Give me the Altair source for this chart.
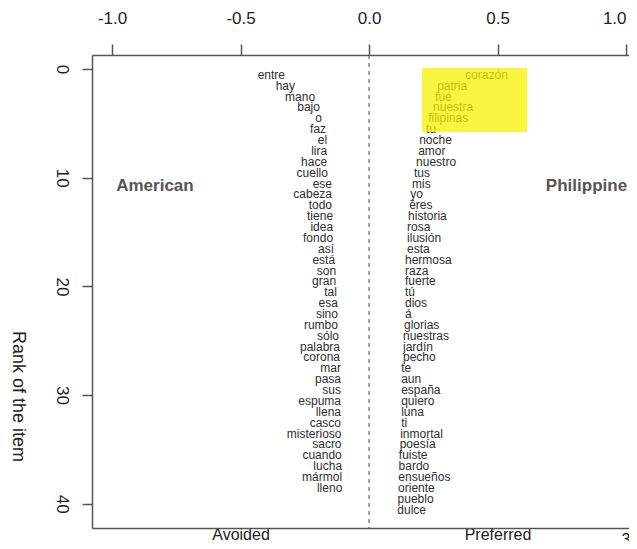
import altair as alt
import pandas as pd

# American (avoided) words, in rank order, with their scores
left_words = ["entre", "hay", "mano", "bajo", "o", "faz", "el", "lira", "hace", "cuello",
              "ese", "cabeza", "todo", "tiene", "idea", "fondo", "así", "está", "son", "gran",
              "tal", "esa", "sino", "rumbo", "sólo", "palabra", "corona", "mar", "pasa", "sus",
              "espuma", "llena", "casco", "misterioso", "sacro", "cuando", "lucha", "mármol", "lleno"]
left_scores = [-0.327, -0.288, -0.210, -0.191, -0.183, -0.167, -0.163, -0.163, -0.163, -0.160,
               -0.144, -0.144, -0.144, -0.140, -0.140, -0.140, -0.136, -0.132, -0.128, -0.128,
               -0.125, -0.121, -0.121, -0.121, -0.117, -0.113, -0.113, -0.109, -0.109, -0.109,
               -0.109, -0.109, -0.109, -0.107, -0.107, -0.106, -0.105, -0.105, -0.104]

# Philippine (preferred) words, in rank order, with their scores
right_words = ["corazón", "patria", "fué", "nuestra", "filipinas", "tu", "noche", "amor", "nuestro", "tus",
               "mis", "yo", "éres", "historia", "rosa", "ilusión", "esta", "hermosa", "raza", "fuerte",
               "tú", "dios", "á", "glorias", "nuestras", "jardín", "pecho", "te", "aun", "españa",
               "quiero", "luna", "ti", "inmortal", "poesía", "fuiste", "bardo", "ensueños", "oriente", "pueblo",
               "dulce"]
right_scores = [0.374, 0.265, 0.257, 0.249, 0.230, 0.222, 0.195, 0.191, 0.183, 0.175,
                0.167, 0.160, 0.156, 0.152, 0.148, 0.148, 0.148, 0.140, 0.140, 0.140,
                0.140, 0.140, 0.140, 0.136, 0.132, 0.132, 0.132, 0.125, 0.125, 0.125,
                0.125, 0.125, 0.125, 0.121, 0.119, 0.116, 0.115, 0.114, 0.113, 0.111,
                0.110]

group_labels = ["American", "Philippine"]
group_x = [-0.833, 0.846]
group_rank = [10.8, 10.8]

highlight_x = [0.206]
highlight_x2 = [0.615]
highlight_rank = [-0.1]
highlight_rank2 = [5.8]

x_ticks = [-1.0, -0.5, 0.0, 0.5, 1.0]
y_ticks = [0, 10, 20, 30, 40]
side_positions = [-0.5, 0.5]

page_label = ["3"]
page_x = [1.0]
page_rank = [43.3]

FONT = "Liberation Sans"
W, H = 537, 473
X_MAX = -1.078 + W / 257.0

left_df = pd.DataFrame({"word": left_words, "score": left_scores,
                        "rank": list(range(1, len(left_words) + 1))})
right_df = pd.DataFrame({"word": right_words, "score": right_scores,
                         "rank": list(range(1, len(right_words) + 1))})
group_df = pd.DataFrame({"label": group_labels, "x": group_x, "rank": group_rank})
hl_df = pd.DataFrame({"x": highlight_x, "x2": highlight_x2, "r": highlight_rank, "r2": highlight_rank2})
zero_df = pd.DataFrame({"x": [0.0]})
page_df = pd.DataFrame({"label": page_label, "x": page_x, "rank": page_rank})

xscale = alt.Scale(domain=[-1.078, X_MAX], nice=False, zero=False)
yscale = alt.Scale(domain=[-1.29, 42.23], reverse=True, nice=False, zero=False)

top_axis = alt.Axis(orient="top", values=x_ticks, title=None, tickSize=11,
                    labelPadding=17, labelFontSize=17, labelColor="#222",
                    labelFlush=5,
                    labelExpr="datum.value < 0 ? '-' + format(-datum.value, '.1f') : format(datum.value, '.1f')")
left_axis = alt.Axis(values=y_ticks, title="Rank of the item", tickSize=10, labelPadding=13,
                     labelFontSize=17, labelAngle=90, labelAlign="center", labelBaseline="top",
                     labelColor="#222", titleAngle=90, titleX=-75, titleY=341,
                     titleAlign="center", titleBaseline="middle", titleFontSize=18,
                     titleFontWeight="normal", titleColor="#222")
bottom_axis = alt.Axis(orient="bottom", values=side_positions, title=None, ticks=False,
                       labelPadding=-2, labelFontSize=16, labelColor="#222",
                       labelExpr="datum.value < 0 ? 'Avoided' : 'Preferred'")

left_layer = alt.Chart(left_df).mark_text(
    align="right", baseline="middle", dy=-5, font=FONT, fontSize=12, color="#2e2e2e"
).encode(
    x=alt.X("score:Q", scale=xscale, axis=top_axis),
    y=alt.Y("rank:Q", scale=yscale, axis=left_axis),
    text="word:N",
)

right_layer = alt.Chart(right_df).mark_text(
    align="left", baseline="middle", dy=-5, font=FONT, fontSize=12, color="#2e2e2e"
).encode(
    x=alt.X("score:Q", scale=xscale, axis=None),
    y=alt.Y("rank:Q", scale=yscale, axis=None),
    text="word:N",
)

zero_rule = alt.Chart(zero_df).mark_rule(color="#444", strokeDash=[4, 4], strokeWidth=1).encode(
    x=alt.X("x:Q", scale=xscale, axis=bottom_axis),
    y=alt.value(0),
    y2=alt.value(H),
)

highlight = alt.Chart(hl_df).mark_rect(color="#f5f000", opacity=0.75).encode(
    x=alt.X("x:Q", scale=xscale, axis=None),
    x2="x2:Q",
    y=alt.Y("r:Q", scale=yscale, axis=None),
    y2="r2:Q",
)

groups = alt.Chart(group_df).mark_text(
    align="center", baseline="middle", font=FONT, fontSize=17, fontWeight="bold", color="#555"
).encode(
    x=alt.X("x:Q", scale=xscale, axis=None),
    y=alt.Y("rank:Q", scale=yscale, axis=None),
    text="label:N",
)

page = alt.Chart(page_df).mark_text(
    align="center", baseline="middle", font=FONT, fontSize=16, color="#222"
).encode(
    x=alt.X("x:Q", scale=xscale, axis=None),
    y=alt.Y("rank:Q", scale=yscale, axis=None),
    text="label:N",
)

chart = alt.layer(
    zero_rule, left_layer, right_layer, highlight, groups, page
).resolve_axis(x="independent", y="independent").properties(
    width=W, height=H,
    autosize=alt.AutoSizeParams(type="none"),
    padding={"left": 84, "top": 47, "right": 0, "bottom": 13},
    background="white",
).configure_view(strokeWidth=0).configure_axis(
    grid=False, domainColor="#555", tickColor="#555", domainWidth=1.5, tickWidth=1.5,
    labelFont=FONT, titleFont=FONT,
)

chart.save("out.html", embed_options={"renderer": "svg", "actions": False})
